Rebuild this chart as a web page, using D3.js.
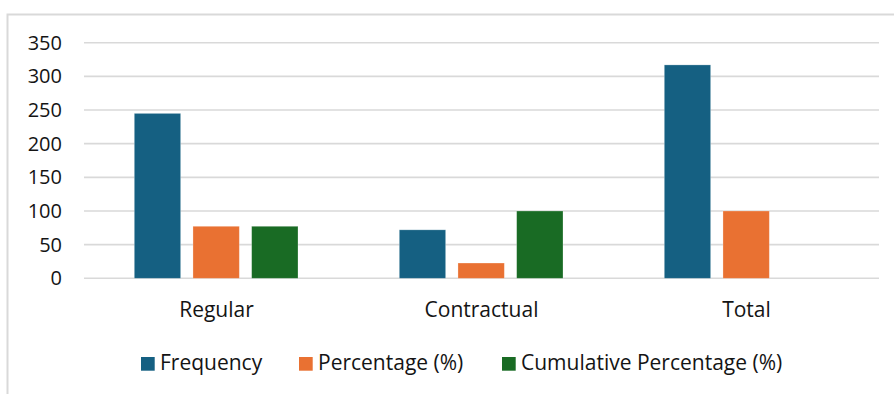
<!DOCTYPE html>
<html>
<head>
<meta charset="utf-8">
<script src="https://cdn.jsdelivr.net/npm/d3@7"></script>
<style>
  html, body { margin: 0; padding: 0; background: #fff; }
  svg { display: block; }
  text { font-family: "Open Sans", Lato, sans-serif; fill: #141414; }
</style>
</head>
<body>
<svg id="chart" width="894" height="394"></svg>
<script>
// Employment status breakdown
const categories = ["Regular", "Contractual", "Total"];
const seriesNames = ["Frequency", "Percentage (%)", "Cumulative Percentage (%)"];
const frequency = [245, 72, 317];
const percentage = [77.3, 22.7, 100];
const cumulative = [77.3, 100, null];
const yTicks = [0, 50, 100, 150, 200, 250, 300, 350];
const colors = ["#156082", "#E97132", "#196B24"];

const seriesValues = [frequency, percentage, cumulative];
const FONT = "'Open Sans', Lato, sans-serif";

const svg = d3.select("#chart");

// chart area frame (top and left edges visible)
svg.append("path")
  .attr("d", "M7.5,394 V14.5 H894")
  .attr("fill", "none")
  .attr("stroke", "#d9d9d9")
  .attr("stroke-width", 2);

const plot = { left: 84, right: 879, top: 42.7, bottom: 278.3 };

const y = d3.scaleLinear().domain([0, 350]).range([plot.bottom, plot.top]);
const x0 = d3.scaleBand().domain(categories).range([plot.left, plot.right]).padding(0);
const x1 = d3.scaleBand().domain(seriesNames)
  .range([50.3, 214]).paddingInner(0.21).paddingOuter(0);

// gridlines
svg.append("g")
  .selectAll("line")
  .data(yTicks)
  .join("line")
  .attr("x1", plot.left).attr("x2", plot.right)
  .attr("y1", d => y(d)).attr("y2", d => y(d))
  .attr("stroke", "#d9d9d9")
  .attr("stroke-width", 1.6);

// y axis labels
const yAxis = d3.axisLeft(y).tickValues(yTicks).tickSize(0).tickPadding(0);
svg.append("g")
  .attr("transform", "translate(62,0)")
  .call(yAxis)
  .call(g => g.select(".domain").remove())
  .call(g => g.selectAll("text")
    .attr("font-size", 20)
    .attr("font-family", FONT)
    .attr("fill", "#141414"));

// bars
const groups = svg.append("g")
  .selectAll("g")
  .data(categories)
  .join("g")
  .attr("transform", d => `translate(${x0(d)},0)`);

groups.selectAll("rect")
  .data((c, i) => seriesNames.map((s, k) => ({ s, k, v: seriesValues[k][i] })).filter(d => d.v != null))
  .join("rect")
  .attr("x", d => x1(d.s))
  .attr("width", x1.bandwidth())
  .attr("y", d => y(d.v))
  .attr("height", d => y(0) - y(d.v))
  .attr("fill", d => colors[d.k])
  .attr("stroke", "rgba(255,255,255,0.35)")
  .attr("stroke-width", 0.75);

// category labels
const xAxis = d3.axisBottom(x0).tickSize(0).tickPadding(0);
svg.append("g")
  .attr("transform", "translate(0,302)")
  .call(xAxis)
  .call(g => g.select(".domain").remove())
  .call(g => g.selectAll("text")
    .attr("font-size", 21)
    .attr("font-family", FONT)
    .attr("fill", "#141414"));

// legend
const legendX = [141, 299, 502];
const legend = svg.append("g")
  .selectAll("g")
  .data(seriesNames)
  .join("g")
  .attr("transform", (d, i) => `translate(${legendX[i]},357)`);

legend.append("rect")
  .attr("width", 13.7).attr("height", 13.7)
  .attr("fill", (d, i) => colors[i]);

legend.append("text")
  .attr("x", 19)
  .attr("y", 13.2)
  .attr("font-size", 21)
  .text(d => d);
</script>
</body>
</html>
